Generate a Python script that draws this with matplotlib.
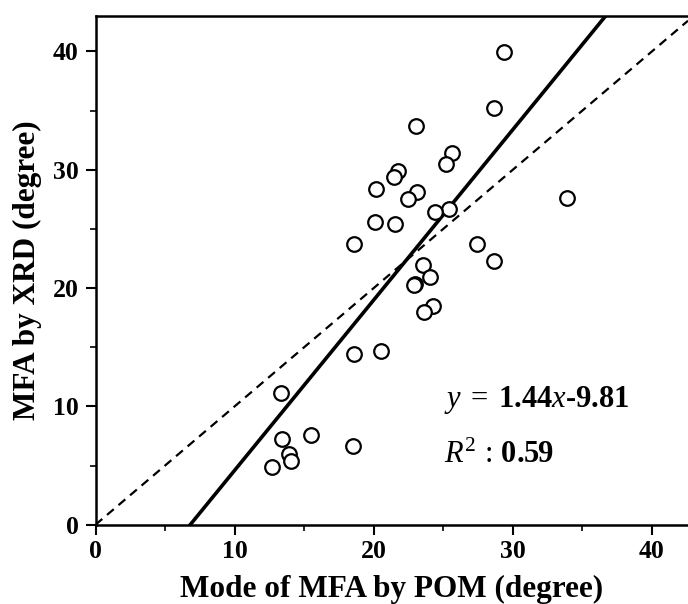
import matplotlib
matplotlib.use("Agg")
import matplotlib.pyplot as plt
import numpy as np

plt.rcParams['font.family'] = ['Liberation Serif', 'DejaVu Serif']
plt.rcParams['mathtext.fontset'] = 'custom'
plt.rcParams['mathtext.rm'] = 'Liberation Serif'
plt.rcParams['mathtext.it'] = 'Liberation Serif:italic'
plt.rcParams['mathtext.bf'] = 'Liberation Serif:bold'

# Data
pom = [29.34, 28.62, 23.04, 25.62, 25.19, 21.72, 21.43, 20.20, 23.11, 22.50,
       33.87, 25.43, 24.40, 20.11, 21.52, 18.62, 27.42, 28.62, 23.56, 24.04,
       22.99, 22.90, 24.23, 23.63, 18.60, 20.52, 18.53, 13.32, 13.39, 15.50,
       13.94, 14.04, 12.72]
xrd = [39.93, 35.25, 33.70, 31.39, 30.49, 29.92, 29.37, 28.35, 28.15, 27.51,
       27.64, 26.71, 26.46, 25.61, 25.39, 23.70, 23.70, 22.29, 21.95, 20.91,
       20.35, 20.25, 18.51, 18.01, 14.46, 14.68, 6.65, 11.16, 7.22, 7.56,
       5.95, 5.38, 4.88]
slope = 1.44
intercept = -9.81
r2 = 0.59
ticks = [0, 10, 20, 30, 40]
minor_ticks = [5, 15, 25, 35]

fig = plt.figure(figsize=(6.88, 6.04), dpi=100)
ax = fig.add_axes([95.5/688, 1 - 524.7/604, 1 - 95.5/688, (524.7 - 16)/604])

xmax = 42.6
ymax = 43.0
ax.set_xlim(0, xmax)
ax.set_ylim(0, ymax)

# 1:1 line
ax.plot([0, xmax], [0, xmax], ls=(0, (4, 2.8)), color='black', lw=1.6, zorder=2)
# regression line
x0 = -intercept / slope
xl = np.array([x0, xmax])
ax.plot(xl, slope * xl + intercept, color='black', lw=2.6, zorder=2)

ax.plot(pom, xrd, 'o', ms=10.5, mfc='white', mec='black', mew=1.6, ls='none', zorder=3)

ax.set_xticks(ticks)
ax.set_yticks(ticks)
ax.set_xticks(minor_ticks, minor=True)
ax.set_yticks(minor_ticks, minor=True)
ax.tick_params(which='major', direction='out', length=7, width=1.5, labelsize=18.5)
ax.tick_params(axis='x', which='major', pad=4)
ax.tick_params(axis='y', which='major', pad=5)
ax.tick_params(which='minor', direction='out', length=4.5, width=1.2)
for lab in ax.get_xticklabels() + ax.get_yticklabels():
    lab.set_fontweight('bold')
for s in ['left', 'bottom', 'top']:
    ax.spines[s].set_linewidth(1.8)
ax.spines['right'].set_visible(False)

ax.set_xlabel('Mode of MFA by POM (degree)', fontsize=22.5, fontweight='bold')
ax.set_ylabel('MFA by XRD (degree)', fontsize=22.5, fontweight='bold')
ax.xaxis.set_label_coords(0.5, -0.098)
ax.yaxis.set_label_coords(-0.09, 0.5)

ax.text(25.07, 9.97, r'$y\;=\;$' + f'{slope:.2f}' + r'$x$' + f'-{abs(intercept):.2f}',
        fontsize=22, fontweight='bold', ha='left', va='baseline')
ax.text(25.07, 5.24, r'$R^2\,:\,$' + f'{r2:.2f}',
        fontsize=22, fontweight='bold', ha='left', va='baseline')

fig.savefig('out.png', dpi=100)
